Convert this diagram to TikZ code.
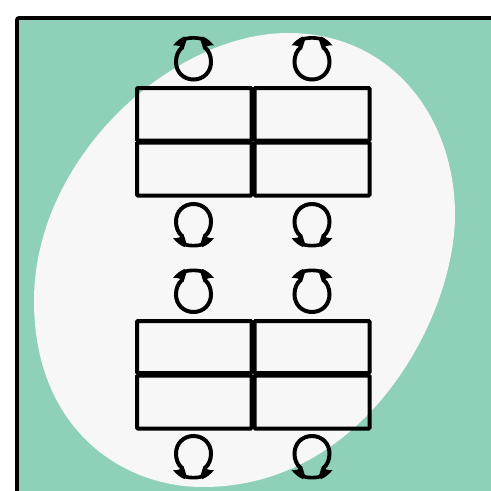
\documentclass[tikz,border=0pt]{standalone}
\usepackage{amsmath}
\definecolor{floorgreen}{HTML}{8FD0B8}
\definecolor{rugwhite}{HTML}{F7F7F7}
\tikzset{
    desk/.style={draw=black,line width=4pt,rounded corners=1pt},
    chair/.pic={
        \draw[line width=4pt] (-11.5,-14.5) .. controls (-15.5,-11) and (-17.5,-6) .. (-17.5,0)
          .. controls (-17.5,10) and (-10,17.5) .. (0,17.5)
          .. controls (10,17.5) and (17.5,10) .. (17.5,0)
          .. controls (17.5,-6) and (15.5,-11) .. (11.5,-14.5);
        \draw[line width=3.6pt] (-12,-21.5) .. controls (-7,-25) and (7,-25) .. (12,-21.5);
        \fill[black] (-20.5,-16.5) .. controls (-17,-21) and (-13,-24) .. (-9,-25.5)
          -- (-7,-22) -- (-10,-12.5) .. controls (-12,-16) and (-16,-17) .. (-20.5,-16.5) -- cycle;
        \fill[black] (20.5,-16.5) .. controls (17,-21) and (13,-24) .. (9,-25.5)
          -- (7,-22) -- (10,-12.5) .. controls (12,-16) and (16,-17) .. (20.5,-16.5) -- cycle;
    }
}
\begin{document}
\begin{tikzpicture}[x=1pt,y=-1pt]
        \clip (0,0) rectangle (491,491);
        \fill[white] (0,0) rectangle (491,491);
        \draw[fill=floorgreen,line width=3.8pt,rounded corners=2pt] (17,18) rectangle (530,530);
        \fill[rugwhite] (288,33) .. controls (393,33) and (455,119) .. (455,215)
          .. controls (455,316) and (366,487) .. (203,487)
          .. controls (119,487) and (34,426) .. (34,301)
          .. controls (34,157) and (173,33) .. (288,33) -- cycle;

        \draw[desk] (137,88) rectangle (251.5,140.5);
        \draw[desk] (254.5,88) rectangle (369.5,140.5);
        \draw[desk] (137,142.5) rectangle (251.5,195.5);
        \draw[desk] (254.5,142.5) rectangle (369.5,195.5);
        \draw[desk] (137,321) rectangle (251.5,373);
        \draw[desk] (254.5,321) rectangle (369.5,373);
        \draw[desk] (137,375.5) rectangle (251.5,428.5);
        \draw[desk] (254.5,375.5) rectangle (369.5,428.5);

        \pic at (193.5,62) {chair};
        \pic at (312,62) {chair};
        \pic[rotate=180] at (193.5,221.5) {chair};
        \pic[rotate=180] at (312,221.5) {chair};
        \pic at (193.5,294.5) {chair};
        \pic at (312,294.5) {chair};
        \pic[rotate=180] at (193.5,453.5) {chair};
        \pic[rotate=180] at (312,453.5) {chair};
    \end{tikzpicture}
\end{document}
